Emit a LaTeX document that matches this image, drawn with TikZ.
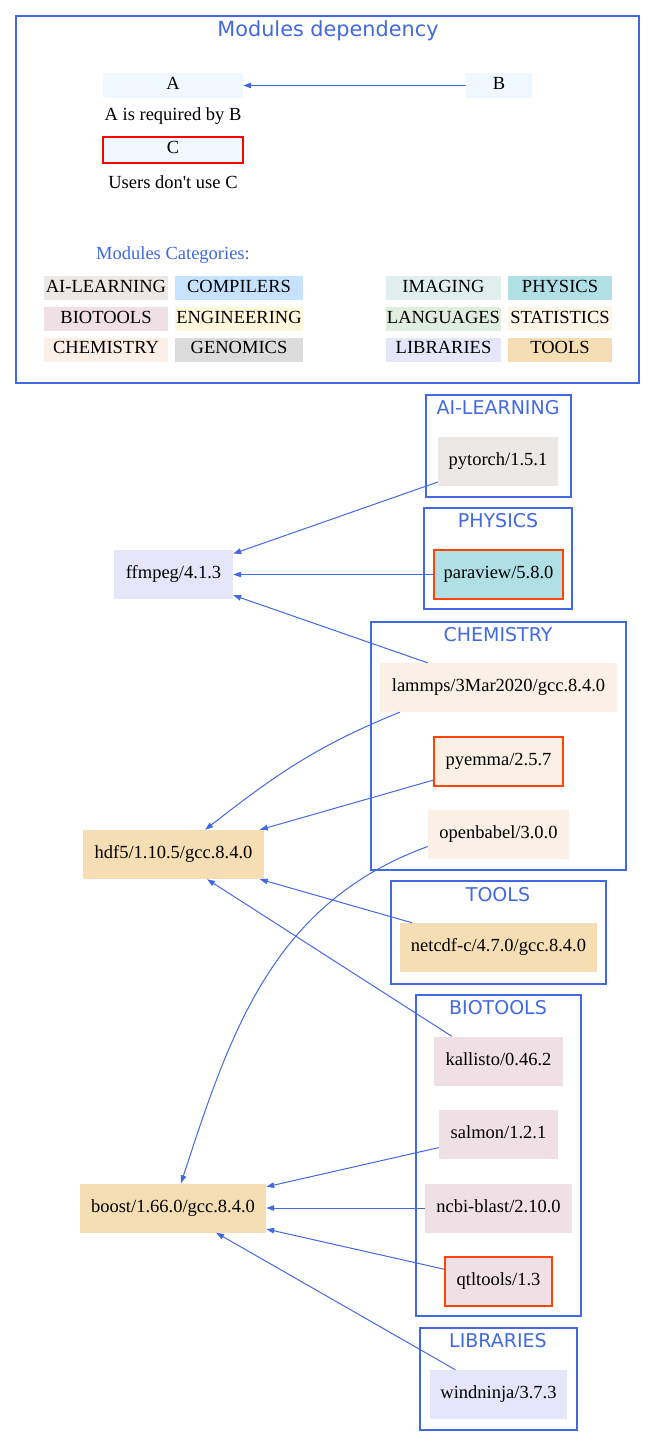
\documentclass[tikz,border=0pt]{standalone}
\usepackage{fontspec}
\setmainfont{Liberation Serif}
\newfontfamily\clusterfont{DejaVu Sans}
\usepackage{tikz}
\usetikzlibrary{arrows.meta}

\definecolor{royal}{RGB}{65,105,225}
\definecolor{orangered}{RGB}{255,69,0}
\definecolor{aliceblue}{RGB}{240,248,255}
\definecolor{aiC}{RGB}{236,232,230}
\definecolor{compC}{RGB}{198,226,255}
\definecolor{bioC}{RGB}{238,224,229}
\definecolor{engC}{RGB}{255,248,220}
\definecolor{chemC}{RGB}{250,240,230}
\definecolor{genC}{RGB}{220,220,220}
\definecolor{imgC}{RGB}{224,238,238}
\definecolor{phyC}{RGB}{176,224,230}
\definecolor{langC}{RGB}{224,238,224}
\definecolor{statC}{RGB}{253,245,230}
\definecolor{libC}{RGB}{230,230,250}
\definecolor{toolC}{RGB}{245,222,179}

\tikzset{
  module/.style={fill=#1, inner sep=0pt, minimum height=49pt, text height=12.5pt, text depth=4.5pt, font=\fontsize{18.5}{20}\selectfont},
  unused/.style={draw=orangered, line width=2pt},
  legendbox/.style={fill=#1, inner sep=0pt, minimum height=24pt, text height=12.5pt, text depth=4.5pt, font=\fontsize{18.5}{20}\selectfont},
  plaintext/.style={inner sep=0pt, font=\fontsize{18.5}{20}\selectfont},
  cluster/.style={draw=royal, line width=1.2pt},
  clusterlabel/.style={inner sep=0pt, text=royal, font=\clusterfont\fontsize{19}{21}\selectfont},
  depends/.style={draw=royal, line width=1pt, -{Triangle[length=8pt,width=5.5pt]}},
}

\begin{document}
\begin{tikzpicture}[x=1pt,y=1pt]
  \useasboundingbox (0,0) rectangle (656,-1447);

  % legend
  \draw[cluster] (16,-16) rectangle (639,-383);
  \node[clusterlabel, font=\clusterfont\fontsize{20.8}{22}\selectfont] (title) at (328,-31) {Modules dependency};
  \node[legendbox=aliceblue, minimum width=140pt, minimum height=25pt] (A) at (173,-85.5) {A};
  \node[legendbox=aliceblue, minimum width=66pt, minimum height=25pt] (B) at (499,-85.5) {B};
  \node[plaintext] (reqtext) at (173,-116) {A is required by B};
  \node[legendbox=aliceblue, minimum width=140pt, minimum height=26pt, draw=red, line width=2pt] (C) at (173,-150) {C};
  \node[plaintext] (usetext) at (173,-182) {Users don\textquotesingle t use C};
  \draw[depends] (B) -- (A);

  \node[plaintext, text=royal] (cattitle) at (173,-255) {Modules Categories:};
  \node[legendbox=aiC, minimum width=124pt] (legAI) at (106,-288) {AI-LEARNING};
  \node[legendbox=compC, minimum width=128pt] (legComp) at (239,-288) {COMPILERS};
  \node[legendbox=imgC, minimum width=115pt] (legImg) at (443.5,-288) {IMAGING};
  \node[legendbox=phyC, minimum width=104pt] (legPhy) at (560,-288) {PHYSICS};
  \node[legendbox=bioC, minimum width=124pt] (legBio) at (106,-319) {BIOTOOLS};
  \node[legendbox=engC, minimum width=128pt] (legEng) at (239,-319) {ENGINEERING};
  \node[legendbox=langC, minimum width=115pt] (legLang) at (443.5,-319) {LANGUAGES};
  \node[legendbox=statC, minimum width=104pt] (legStat) at (560,-319) {STATISTICS};
  \node[legendbox=chemC, minimum width=124pt] (legChem) at (106,-349.5) {CHEMISTRY};
  \node[legendbox=genC, minimum width=128pt] (legGen) at (239,-349.5) {GENOMICS};
  \node[legendbox=libC, minimum width=115pt] (legLib) at (443.5,-349.5) {LIBRARIES};
  \node[legendbox=toolC, minimum width=104pt] (legTool) at (560,-349.5) {TOOLS};

  % clusters
  \draw[cluster] (426,-395) rectangle (571,-497);
  \node[clusterlabel] (labAI) at (498,-408) {AI-LEARNING};
  \draw[cluster] (424,-508) rectangle (572,-609);
  \node[clusterlabel] (labPhy) at (498,-521) {PHYSICS};
  \draw[cluster] (371,-622) rectangle (626,-870);
  \node[clusterlabel] (labChem) at (498,-635) {CHEMISTRY};
  \draw[cluster] (391,-881) rectangle (606,-984);
  \node[clusterlabel] (labTool) at (498,-895) {TOOLS};
  \draw[cluster] (416,-995) rectangle (581,-1316);
  \node[clusterlabel] (labBio) at (498,-1008) {BIOTOOLS};
  \draw[cluster] (420,-1328) rectangle (577,-1430);
  \node[clusterlabel] (labLib) at (498,-1341) {LIBRARIES};

  % modules
  \node[module=aiC, minimum width=120pt] (pytorch) at (498,-461) {pytorch/1.5.1};
  \node[module=phyC, minimum width=129pt, unused] (paraview) at (498.5,-574.5) {paraview/5.8.0};
  \node[module=chemC, minimum width=237pt] (lammps) at (498.5,-687.5) {lammps/3Mar2020/gcc.8.4.0};
  \node[module=chemC, minimum width=129pt, unused] (pyemma) at (498.5,-761.5) {pyemma/2.5.7};
  \node[module=chemC, minimum width=141pt] (openbabel) at (498.5,-834.5) {openbabel/3.0.0};
  \node[module=toolC, minimum width=197pt] (netcdf) at (498.5,-947.5) {netcdf-c/4.7.0/gcc.8.4.0};
  \node[module=bioC, minimum width=129pt] (kallisto) at (498.5,-1061) {kallisto/0.46.2};
  \node[module=bioC, minimum width=119pt] (salmon) at (498.5,-1134) {salmon/1.2.1};
  \node[module=bioC, minimum width=147pt] (ncbi) at (498.5,-1208) {ncbi-blast/2.10.0};
  \node[module=bioC, minimum width=107pt, unused] (qtltools) at (498.5,-1281.5) {qtltools/1.3};
  \node[module=libC, minimum width=137pt] (windninja) at (498.5,-1394.5) {windninja/3.7.3};

  \node[module=libC, minimum width=119pt] (ffmpeg) at (173.5,-574.5) {ffmpeg/4.1.3};
  \node[module=toolC, minimum width=181pt] (hdf5) at (173.5,-854.5) {hdf5/1.10.5/gcc.8.4.0};
  \node[module=toolC, minimum width=186pt] (boost) at (173,-1208) {boost/1.66.0/gcc.8.4.0};

  % dependencies
  \draw[depends] (pytorch) -- (ffmpeg);
  \draw[depends] (paraview) -- (ffmpeg);
  \draw[depends] (lammps) -- (ffmpeg);
  \draw[depends] ([xshift=20pt]lammps.south west) to[out=202,in=38] (hdf5);
  \draw[depends] (pyemma) -- (hdf5);
  \draw[depends] ([yshift=-12pt]openbabel.west) to[out=200,in=72] (boost);
  \draw[depends] (netcdf) -- (hdf5);
  \draw[depends] ([xshift=18pt]kallisto.north west) -- ([xshift=33.5pt]hdf5.south);
  \draw[depends] (salmon) -- (boost);
  \draw[depends] (ncbi) -- (boost);
  \draw[depends] (qtltools) -- (boost);
  \draw[depends] (windninja) -- (boost);
\end{tikzpicture}
\end{document}
